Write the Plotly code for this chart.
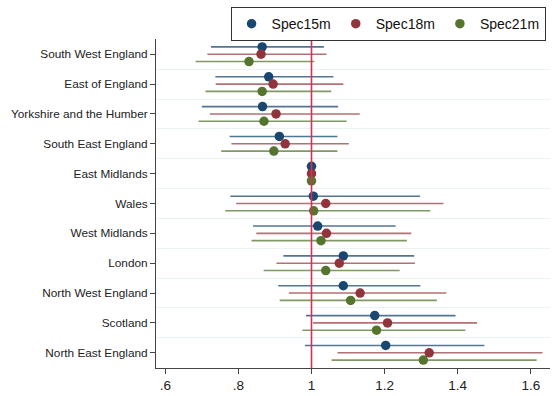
import plotly.graph_objects as go

regions = ["South West England", "East of England", "Yorkshire and the Humber",
           "South East England", "East Midlands", "Wales", "West Midlands",
           "London", "North West England", "Scotland", "North East England"]

series_names = ["Spec15m", "Spec18m", "Spec21m"]

spec15_est = [0.865, 0.883, 0.866, 0.912, 1.0, 1.005, 1.017, 1.087, 1.087, 1.173, 1.203]
spec15_lo  = [0.725, 0.737, 0.700, 0.776, 1.0, 0.778, 0.840, 0.923, 0.909, 0.985, 0.982]
spec15_hi  = [1.034, 1.060, 1.073, 1.071, 1.0, 1.297, 1.230, 1.281, 1.298, 1.394, 1.473]

spec18_est = [0.862, 0.895, 0.903, 0.928, 1.0, 1.039, 1.041, 1.076, 1.133, 1.208, 1.322]
spec18_lo  = [0.715, 0.738, 0.722, 0.781, 1.0, 0.794, 0.849, 0.904, 0.938, 1.004, 1.071]
spec18_hi  = [1.041, 1.087, 1.132, 1.102, 1.0, 1.361, 1.273, 1.283, 1.369, 1.453, 1.632]

spec21_est = [0.829, 0.865, 0.870, 0.897, 1.0, 1.006, 1.026, 1.039, 1.107, 1.178, 1.306]
spec21_lo  = [0.683, 0.710, 0.691, 0.753, 1.0, 0.764, 0.836, 0.869, 0.913, 0.975, 1.055]
spec21_hi  = [1.008, 1.054, 1.096, 1.071, 1.0, 1.325, 1.261, 1.241, 1.343, 1.421, 1.616]

x_ticks = [0.6, 0.8, 1.0, 1.2, 1.4, 1.6]
x_tick_labels = [".6", ".8", "1", "1.2", "1.4", "1.6"]

colors = ["#1a476f", "#90353b", "#55752f"]
ci_colors = ["rgba(26,71,111,0.75)", "rgba(144,53,59,0.7)", "rgba(85,117,47,0.75)"]
offsets = [-0.245, 0.0, 0.245]

data = [(spec15_est, spec15_lo, spec15_hi),
        (spec18_est, spec18_lo, spec18_hi),
        (spec21_est, spec21_lo, spec21_hi)]

fig = go.Figure()

# CI lines
for k, (est, lo, hi) in enumerate(data):
    xs, ys = [], []
    for i in range(len(regions)):
        yy = i + offsets[k]
        xs += [lo[i], hi[i], None]
        ys += [yy, yy, None]
    fig.add_trace(go.Scatter(x=xs, y=ys, mode="lines",
                             line=dict(color=ci_colors[k], width=1.6),
                             showlegend=False, hoverinfo="skip"))

# reference line at 1
fig.add_shape(type="line", x0=1, x1=1, y0=0, y1=1, xref="x", yref="paper",
              line=dict(color="#d2325a", width=1.6), layer="above")

# point estimates
for k, (est, lo, hi) in enumerate(data):
    fig.add_trace(go.Scatter(x=est, y=[i + offsets[k] for i in range(len(regions))],
                             mode="markers", name=series_names[k],
                             marker=dict(color=colors[k], size=9.5, line=dict(width=0))))

fig.update_layout(
    width=559, height=396,
    margin=dict(l=156, r=9, t=39, b=28, autoexpand=False),
    paper_bgcolor="white", plot_bgcolor="white",
    font=dict(family="Liberation Sans, Arial, sans-serif", color="#222"),
    showlegend=True,
    legend=dict(orientation="h", xref="container", yref="container",
                x=0.976, xanchor="right", y=0.982, yanchor="top",
                bordercolor="#333", borderwidth=1, bgcolor="white",
                font=dict(size=14, color="#111"), itemwidth=30,
                tracegroupgap=0),
    xaxis=dict(range=[0.5746, 1.6525], tickvals=x_ticks, ticktext=x_tick_labels,
               ticks="outside", ticklen=5, tickcolor="#444", showline=True,
               linecolor="#444", linewidth=1, showgrid=False, zeroline=False,
               automargin=False, tickfont=dict(size=13.5, color="#222")),
    yaxis=dict(range=[10.51, -0.51], tickvals=list(range(len(regions))), ticktext=regions,
               ticks="outside", ticklen=5, tickcolor="#444", showline=True,
               linecolor="#444", linewidth=1, showgrid=False, zeroline=False,
               automargin=False, tickfont=dict(size=11.8, color="#222"),
               minor=dict(tickvals=[i + 0.5 for i in range(len(regions) - 1)],
                          showgrid=True, gridcolor="#eaf2f3", gridwidth=1, ticks="")),
)

fig.write_html("out.html", config={"displayModeBar": False},
               post_script="document.body.style.margin='0';document.body.style.overflow='hidden';")
